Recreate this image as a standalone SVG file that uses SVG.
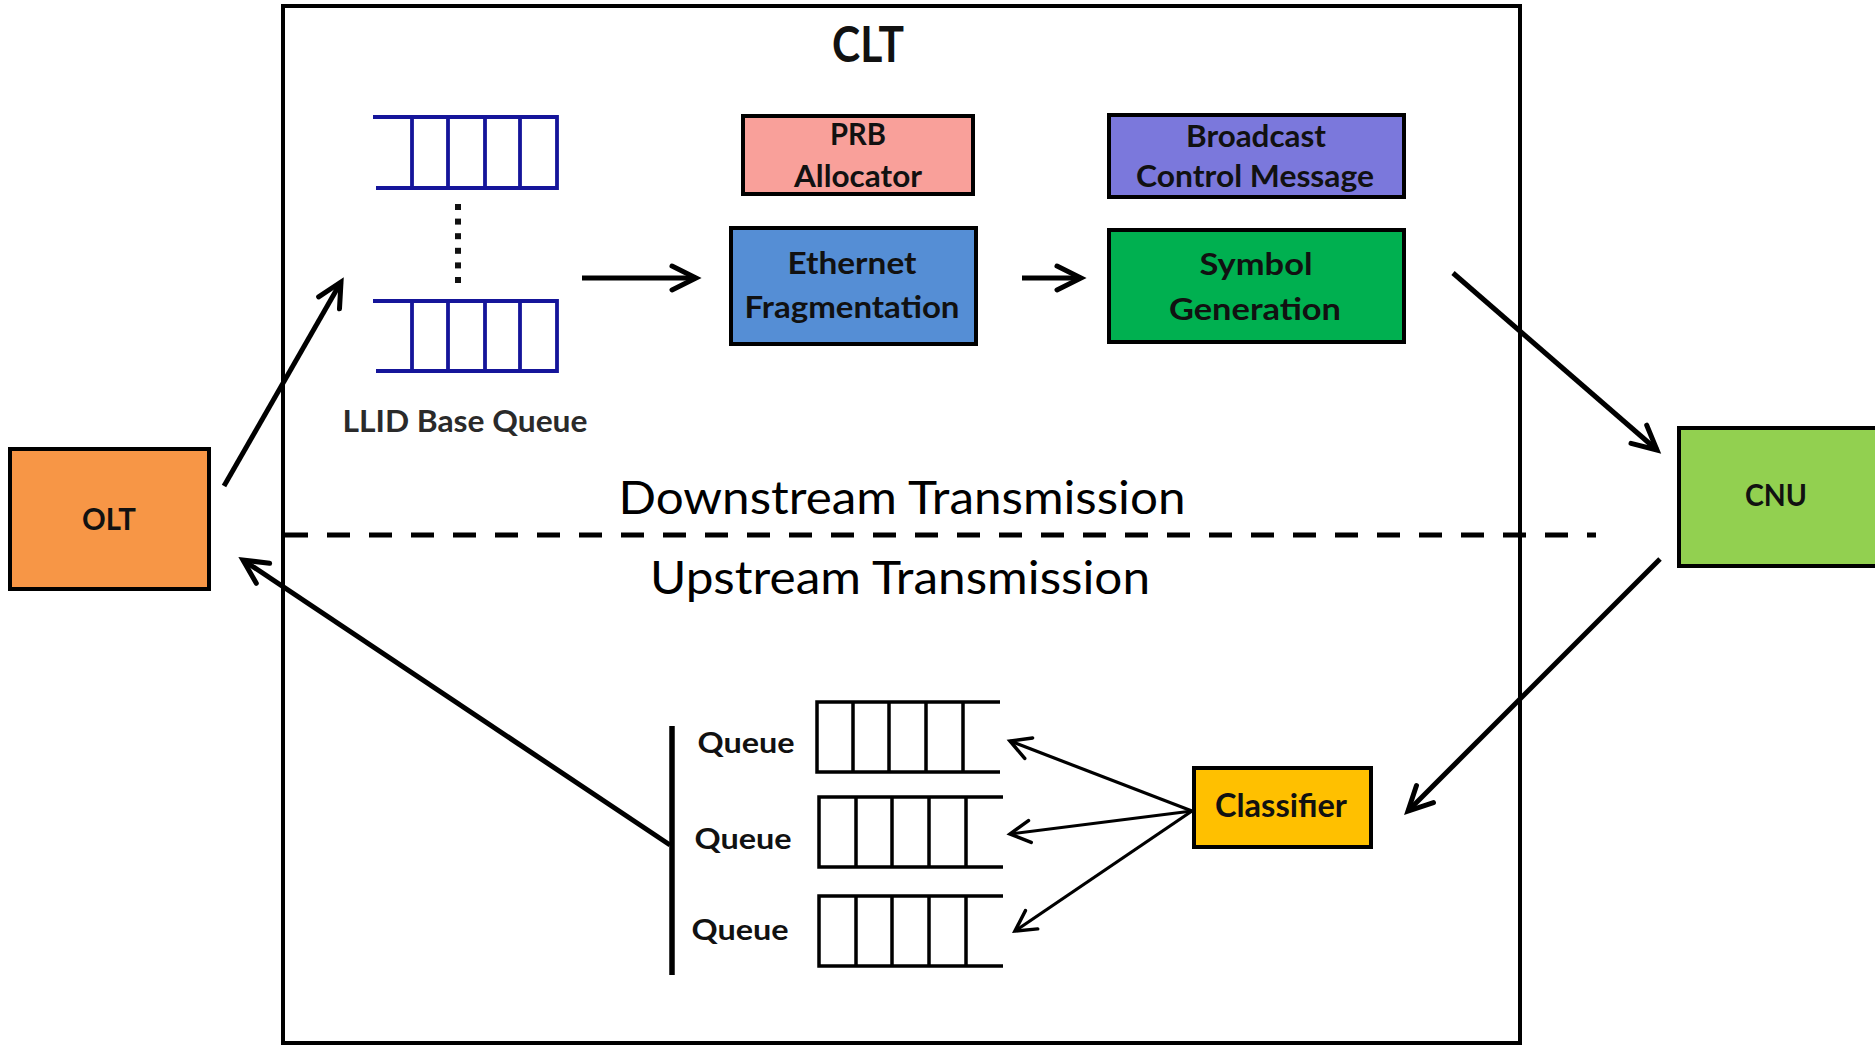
<svg xmlns="http://www.w3.org/2000/svg" width="1875" height="1045" viewBox="0 0 1875 1045">
  <style>
    .box { stroke: #000; stroke-width: 4; }
    .lbl { font-family: Lato, "Open Sans", "Liberation Sans", sans-serif; font-weight: 700; fill: #111; text-anchor: middle; }
    .big { font-family: Lato, "Open Sans", "Liberation Sans", sans-serif; font-weight: 400; fill: #000; text-anchor: middle; font-size: 46px; }
    .queue { fill: none; stroke: #000; stroke-width: 3.5; }
    .llq { fill: none; stroke: #15159a; stroke-width: 3.8; }
    .wire { fill: none; stroke: #000; stroke-width: 5; marker-end: url(#head); }
    .thin { fill: none; stroke: #000; stroke-width: 3.2; marker-end: url(#headSmall); }
  </style>
  <defs>
    <marker id="head" markerUnits="userSpaceOnUse" viewBox="-30 -16 34 32" markerWidth="34" markerHeight="32" refX="0" refY="0" orient="auto" overflow="visible">
      <path d="M-24,-12 L0,0 L-24,12" fill="none" stroke="#000" stroke-width="5" stroke-linecap="round"/>
    </marker>
    <marker id="headSmall" markerUnits="userSpaceOnUse" viewBox="-26 -14 30 28" markerWidth="30" markerHeight="28" refX="0" refY="0" orient="auto" overflow="visible">
      <path d="M-20,-11 L0,0 L-20,11" fill="none" stroke="#000" stroke-width="3.5" stroke-linecap="round"/>
    </marker>
  </defs>

  <rect width="1875" height="1045" fill="#fff"/>

  <!-- CLT enclosure -->
  <g id="clt">
    <rect x="283" y="6" width="1237" height="1037" fill="none" stroke="#000" stroke-width="4"/>
    <text class="lbl" x="868" y="62" font-size="49" textLength="72" lengthAdjust="spacingAndGlyphs">CLT</text>
  </g>

  <!-- downstream / upstream divider -->
  <g id="divider">
    <line x1="285" y1="535" x2="1596" y2="535" stroke="#000" stroke-width="5" stroke-dasharray="23 19"/>
    <text class="big" x="902" y="514" textLength="567" lengthAdjust="spacingAndGlyphs">Downstream Transmission</text>
    <text class="big" x="900" y="594" textLength="500" lengthAdjust="spacingAndGlyphs">Upstream Transmission</text>
  </g>

  <g id="olt">
    <rect class="box" x="10" y="449" width="199" height="140" fill="#f79646" stroke-width="3.5"/>
    <text class="lbl" x="109" y="530" font-size="31" textLength="54" lengthAdjust="spacingAndGlyphs">OLT</text>
  </g>

  <g id="cnu">
    <rect class="box" x="1679" y="428" width="205" height="138" fill="#92d050" stroke-width="3.5"/>
    <text class="lbl" x="1776" y="506" font-size="31" textLength="62" lengthAdjust="spacingAndGlyphs">CNU</text>
  </g>

  <g id="llid-queues">
    <path class="llq" d="M373,117 H557 V188 H376 M412,117 V188 M448,117 V188 M485,117 V188 M520,117 V188"/>
    <g fill="#111">
      <rect x="455" y="204" width="6" height="6"/>
      <rect x="455" y="218.6" width="6" height="6"/>
      <rect x="455" y="233.2" width="6" height="6"/>
      <rect x="455" y="247.8" width="6" height="6"/>
      <rect x="455" y="262.4" width="6" height="6"/>
      <rect x="455" y="277" width="6" height="6"/>
    </g>
    <path class="llq" d="M373,301 H557 V371 H376 M412,301 V371 M448,301 V371 M485,301 V371 M520,301 V371"/>
    <text class="lbl" x="465" y="432" font-size="30" style="fill:#2a2a2a" textLength="245" lengthAdjust="spacingAndGlyphs">LLID Base Queue</text>
  </g>

  <g id="prb-allocator">
    <rect class="box" x="743" y="116" width="230" height="78" fill="#f9a09a"/>
    <text class="lbl" x="858" y="145" font-size="31" textLength="56" lengthAdjust="spacingAndGlyphs">PRB</text>
    <text class="lbl" x="858" y="187" font-size="31" textLength="128" lengthAdjust="spacingAndGlyphs">Allocator</text>
  </g>

  <g id="broadcast-control">
    <rect class="box" x="1109" y="115" width="295" height="82" fill="#7b78dc"/>
    <text class="lbl" x="1256" y="147" font-size="31" textLength="140" lengthAdjust="spacingAndGlyphs">Broadcast</text>
    <text class="lbl" x="1255" y="187" font-size="31" textLength="238" lengthAdjust="spacingAndGlyphs">Control Message</text>
  </g>

  <g id="ethernet-fragmentation">
    <rect class="box" x="731" y="228" width="245" height="116" fill="#558ed5" stroke-width="3.5"/>
    <text class="lbl" x="852" y="274" font-size="31" textLength="129" lengthAdjust="spacingAndGlyphs">Ethernet</text>
    <text class="lbl" x="852" y="318" font-size="31" textLength="215" lengthAdjust="spacingAndGlyphs">Fragmentation</text>
  </g>

  <g id="symbol-generation">
    <rect class="box" x="1109" y="230" width="295" height="112" fill="#00b050"/>
    <text class="lbl" x="1256" y="275" font-size="31" textLength="113" lengthAdjust="spacingAndGlyphs">Symbol</text>
    <text class="lbl" x="1255" y="320" font-size="31" textLength="172" lengthAdjust="spacingAndGlyphs">Generation</text>
  </g>

  <g id="classifier">
    <rect class="box" x="1194" y="768" width="177" height="79" fill="#ffc000" stroke-width="3.5"/>
    <text class="lbl" x="1281" y="817" font-size="32" textLength="132" lengthAdjust="spacingAndGlyphs">Classifier</text>
  </g>

  <g id="upstream-queues">
    <path class="queue" d="M1000,702 H817 V772 H1000 M853,702 V772 M889,702 V772 M926,702 V772 M963,702 V772"/>
    <path class="queue" d="M1003,797 H819 V867 H1003 M856,797 V867 M892,797 V867 M929,797 V867 M966,797 V867"/>
    <path class="queue" d="M1003,896 H819 V966 H1003 M856,896 V966 M892,896 V966 M929,896 V966 M966,896 V966"/>
    <text class="lbl" x="746" y="753" font-size="29" textLength="97" lengthAdjust="spacingAndGlyphs">Queue</text>
    <text class="lbl" x="743" y="849" font-size="29" textLength="97" lengthAdjust="spacingAndGlyphs">Queue</text>
    <text class="lbl" x="740" y="940" font-size="29" textLength="97" lengthAdjust="spacingAndGlyphs">Queue</text>
    <line x1="672" y1="726" x2="672" y2="975" stroke="#000" stroke-width="5.5"/>
  </g>

  <g id="connectors">
    <line class="wire" x1="224" y1="486" x2="341" y2="282"/>
    <line class="wire" x1="582" y1="278" x2="696" y2="278"/>
    <line class="wire" x1="1022" y1="278" x2="1081" y2="278"/>
    <line class="wire" x1="1453" y1="273" x2="1657" y2="450"/>
    <line class="wire" x1="1660" y1="559" x2="1408" y2="811"/>
    <line class="wire" x1="670" y1="845" x2="243" y2="560"/>
    <line class="thin" x1="1192" y1="811" x2="1010" y2="741"/>
    <line class="thin" x1="1192" y1="811" x2="1010" y2="834"/>
    <line class="thin" x1="1192" y1="811" x2="1015" y2="931"/>
  </g>
</svg>
